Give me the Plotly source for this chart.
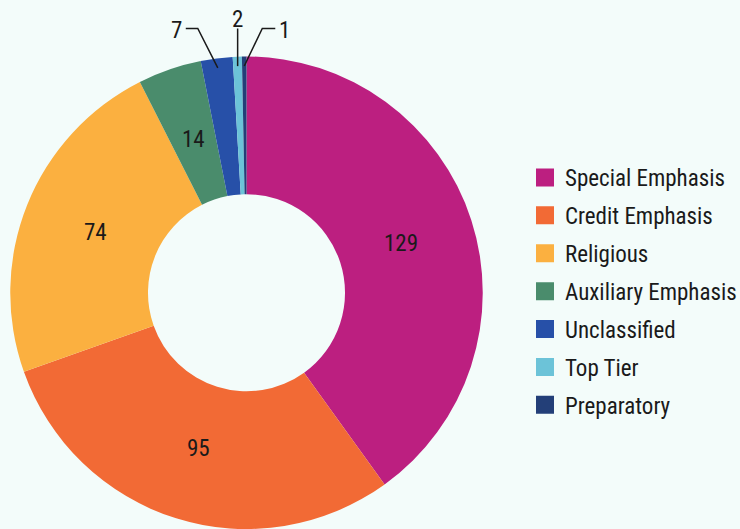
import math
import plotly.graph_objects as go

categories = ["Special Emphasis", "Credit Emphasis", "Religious", "Auxiliary Emphasis",
              "Unclassified", "Top Tier", "Preparatory"]
counts = [129, 95, 74, 14, 7, 2, 1]
colors = ["#bc1f80", "#f26a35", "#fbb040", "#4a8c6c", "#2750a8", "#6cc3d8", "#233f78"]
# small slices get a leader-line callout instead of a label on the ring
callout = [False, False, False, False, True, True, True]
# horizontal run (px) of each callout's leader: elbow offset, tail length
elbow_dx = {4: -20, 5: 0, 6: 18}
tail_dx = {4: -12, 5: 0, 6: 13}

FONT = "Roboto Condensed, Liberation Sans Narrow, DejaVu Sans Condensed, sans-serif"
BG = "#f3fcfa"
INK = "#1a1a1a"
W, H = 740, 529
HOLE = 0.417

# pie placement in pixels
cx, cy, R = 246.5, 293.0, 236.5
dom_x = [(cx - R) / W, (cx + R) / W]
dom_y = [max((H - cy - R) / H, 0.0), (H - cy + R) / H]

fig = go.Figure()

fig.add_trace(go.Pie(
    labels=categories,
    values=counts,
    sort=False,
    direction="clockwise",
    rotation=0,
    hole=HOLE,
    marker=dict(colors=colors, line=dict(width=0)),
    textinfo="none",
    domain=dict(x=dom_x, y=dom_y),
    showlegend=False,
))


def px_to_paper(x, y):
    return x / W, (H - y) / H


# Value labels: on the ring for large slices, leader-line callouts for thin ones
total = sum(counts)
cum = 0
for i, v in enumerate(counts):
    mid = (cum + v / 2) / total * 2 * math.pi
    cum += v
    if not callout[i]:
        r_lab = R * (1 + HOLE) / 2 * 0.97
        lx, ly = px_to_paper(cx + r_lab * math.sin(mid), cy - r_lab * math.cos(mid))
        fig.add_annotation(x=lx, y=ly, xref="paper", yref="paper", text=str(v),
                           showarrow=False, xanchor="center", yanchor="middle",
                           font=dict(family=FONT, size=23, color=INK))
        continue
    r0 = R * 0.96
    x0 = cx + r0 * math.sin(mid)
    y0 = cy - r0 * math.cos(mid)
    y1 = cy - R - 28
    x1 = x0 + elbow_dx[i]
    x2 = x1 + tail_dx[i]
    pts = [px_to_paper(x0, y0), px_to_paper(x1, y1), px_to_paper(x2, y1)]
    path = "M {:.5f},{:.5f} L {:.5f},{:.5f} L {:.5f},{:.5f}".format(*pts[0], *pts[1], *pts[2])
    fig.add_shape(type="path", path=path, xref="paper", yref="paper",
                  line=dict(color=INK, width=1.5))
    if tail_dx[i] < 0:
        ax, ay, xa = x2 - 2, y1 + 2, "right"
    elif tail_dx[i] > 0:
        ax, ay, xa = x2 + 2, y1 + 2, "left"
    else:
        ax, ay, xa = x2, y1 - 9, "center"
    px, py = px_to_paper(ax, ay)
    fig.add_annotation(x=px, y=py, xref="paper", yref="paper", text=str(v),
                       showarrow=False, xanchor=xa, yanchor="middle",
                       font=dict(family=FONT, size=23, color=INK))

# Legend entries as square markers, one group each to space the rows
for name, col in zip(categories, colors):
    fig.add_trace(go.Scatter(
        x=[None], y=[None], mode="markers", name=name,
        marker=dict(symbol="square", size=16, color=col, line=dict(color=col, width=2)),
        legendgroup=name, showlegend=True,
    ))

fig.update_layout(
    width=W, height=H,
    margin=dict(l=0, r=0, t=0, b=0, autoexpand=False),
    paper_bgcolor=BG, plot_bgcolor=BG,
    xaxis=dict(visible=False), yaxis=dict(visible=False),
    font=dict(family=FONT, size=23, color=INK),
    legend=dict(
        x=525 / W, y=(H - 156) / H, xanchor="left", yanchor="top",
        bgcolor="rgba(0,0,0,0)", tracegroupgap=5,
        font=dict(family=FONT, size=23, color=INK),
    ),
)

fig.write_html("out.html")
